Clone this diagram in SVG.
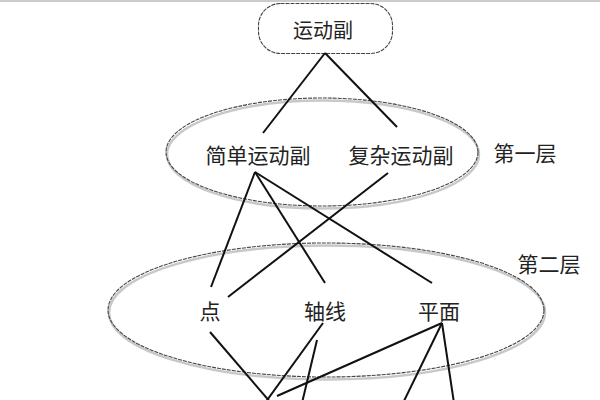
<svg xmlns="http://www.w3.org/2000/svg" width="600" height="400" viewBox="0 0 600 400">
<style>
.t{font-family:"Noto Sans CJK SC","Noto Sans",sans-serif;font-size:21px;fill:#222;text-anchor:middle}
.shape{fill:none;stroke:#444;stroke-width:1.1;stroke-dasharray:4 1}
.shadow{fill:none;stroke:#c8c8c8;stroke-width:2.5}
.c line{stroke:#111;stroke-width:2}
</style>
<rect width="600" height="400" fill="#fff"/>
<line x1="0" y1="1" x2="600" y2="1" stroke="#ccc" stroke-width="2"/>
<g id="root">
<rect x="258.5" y="3.5" width="134" height="50" rx="22" class="shape"/>
<text x="323" y="38" class="t" style="font-size:20px">运动副</text>
</g>
<g id="layer1">
<ellipse cx="322" cy="152" rx="156" ry="54" class="shadow" transform="translate(1,2.5)"/>
<ellipse cx="322" cy="152" rx="156" ry="54" class="shape"/>
<text x="258" y="163" class="t">简单运动副</text>
<text x="401" y="163" class="t">复杂运动副</text>
</g>
<g id="label1"><text x="525" y="161" class="t">第一层</text></g>
<g id="layer2">
<ellipse cx="326" cy="310" rx="218" ry="67" class="shadow" transform="translate(1,2.5)"/>
<ellipse cx="326" cy="310" rx="218" ry="67" class="shape"/>
<text x="210" y="319" class="t">点</text>
<text x="325" y="319" class="t">轴线</text>
<text x="439" y="319" class="t">平面</text>
</g>
<g id="label2"><text x="549" y="272" class="t">第二层</text></g>
<g class="c" id="connectors">
<line x1="325" y1="53" x2="263" y2="133"/>
<line x1="325" y1="53" x2="397" y2="127"/>
<line x1="255" y1="172" x2="211" y2="287"/>
<line x1="255" y1="172" x2="325" y2="283"/>
<line x1="255" y1="172" x2="432" y2="283"/>
<line x1="388" y1="173" x2="228" y2="297"/>
<line x1="210" y1="332" x2="271" y2="403"/>
<line x1="323" y1="323" x2="265" y2="403"/>
<line x1="317" y1="340" x2="302" y2="403"/>
<line x1="442" y1="323" x2="277" y2="396"/>
<line x1="442" y1="323" x2="403" y2="403"/>
<line x1="442" y1="323" x2="454" y2="403"/>
</g>
</svg>
